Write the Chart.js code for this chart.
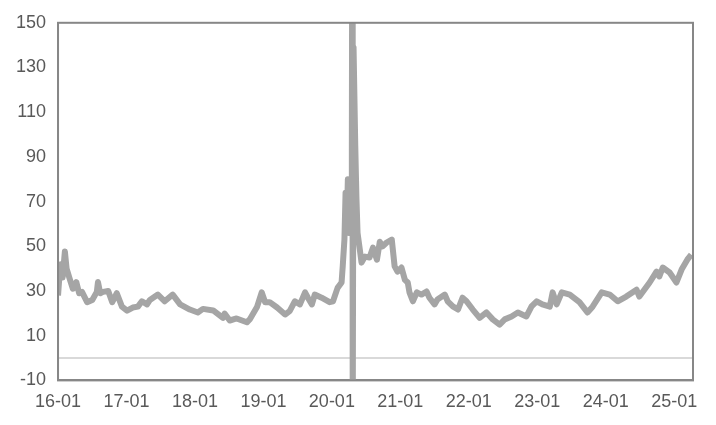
<!DOCTYPE html>
<html>
<head>
<meta charset="utf-8">
<script src="https://cdn.jsdelivr.net/npm/chart.js@4.4.1/dist/chart.umd.min.js"></script>
<style>
  html, body { margin: 0; padding: 0; background: #fff; }
  #wrap { width: 716px; height: 425px; }
</style>
</head>
<body>
<div id="wrap"><canvas id="ratioChart"></canvas></div>
<script>
// months since 2016-01 (x) and the plotted ratio (y)
const months = [
  0.0, 0.2, 0.5, 0.8, 1.2, 1.5, 2.1, 2.6, 3.2, 3.7, 4.2, 5.1, 6.0, 6.8, 7.0, 7.4, 7.9, 8.8,
  9.5, 10.0, 10.3, 11.2, 12.1, 13.1, 14.0, 14.7, 15.6, 16.1, 17.5, 18.7, 20.1, 21.4, 23.1,
  24.5, 25.4, 27.2, 28.9, 29.2, 30.1, 31.3, 33.1, 33.6, 34.9, 35.7, 36.3, 37.1, 38.4, 39.8,
  40.6, 41.5, 42.4, 43.3, 43.8, 44.5, 45.0, 46.2, 47.6, 48.2, 49.0, 49.7, 49.9, 50.2, 50.4,
  50.6, 50.8, 51.0, 51.2, 51.4, 51.5, 51.6, 51.65, 51.8, 52.1, 52.3, 52.5, 52.9, 53.2, 53.8,
  54.6, 55.2, 55.9, 56.4, 56.9, 57.6, 58.5, 59.0, 59.5, 60.2, 60.8, 61.3, 61.6, 62.2, 62.9,
  63.7, 64.6, 65.1, 66.0, 66.5, 67.8, 68.3, 69.2, 70.1, 70.9, 71.6, 72.7, 73.9, 75.1, 76.2,
  77.4, 78.3, 79.5, 80.6, 82.1, 83.0, 83.9, 84.9, 86.2, 86.7, 87.4, 88.3, 89.7, 91.4, 92.8,
  93.7, 95.3, 96.7, 98.1, 99.6, 101.4, 101.9, 103.7, 104.9, 105.4, 106.0, 107.2, 108.4,
  109.3, 110.3, 111.0
];
const ratio = [
  28, 35, 42, 36, 47.7, 40, 35, 31, 34, 29, 29.6, 25, 26, 29.6, 34, 29, 29.6, 30,
  25, 27.5, 29, 23, 21.2, 22.6, 23, 25.4, 24, 26, 28.4, 25.4, 28.4, 24, 21.7,
  20.4, 22, 21.3, 18, 19.9, 16.8, 17.7, 16, 17.3, 23, 29.4, 25, 25, 22.6, 19.5,
  21, 25.4, 24, 29.4, 27, 24, 28.4, 27, 25, 25.4, 31.4, 33.8, 41, 53, 74,
  58, 80, 56, 78, 66, 93, 250, -40, 139, 95, 72, 56, 48.5, 42.7, 45.4,
  45, 49.4, 44, 52, 50, 51.7, 53, 41, 38.7, 40.5, 35, 33.8, 29.4, 25.4, 29.4,
  28.4, 29.8, 27, 24, 26.2, 28.4, 25.4, 23.1, 21.7, 27, 25.4, 21.7, 18, 20.4, 17.3,
  15, 17.3, 18.6, 20.4, 18.6, 23.1, 25.4, 24, 23, 29.4, 24, 29.4, 28.4, 25, 20.4,
  23, 29.4, 28.4, 25.4, 27.5, 30.6, 27.5, 33.8, 38.7, 36.5, 40.5, 38.3, 33.8,
  39.6, 44, 46.3
];
const yearTicks = [0, 12, 24, 36, 48, 60, 72, 84, 96, 108];
const yearLabels = ['16-01', '17-01', '18-01', '19-01', '20-01', '21-01', '22-01', '23-01', '24-01', '25-01'];
const xMax = 111.3;

const LINE = '#a5a5a5';
const FRAME = '#878787';
const TEXT = '#595959';

Chart.defaults.font.family = "'Liberation Sans', Arial, sans-serif";
Chart.defaults.font.size = 18;
Chart.defaults.color = TEXT;

// box round the plot area, as in the source
const frame = {
  id: 'frame',
  afterDraw(chart) {
    const { ctx, chartArea: a } = chart;
    ctx.save();
    ctx.strokeStyle = FRAME;
    ctx.lineWidth = 2;
    ctx.strokeRect(a.left, a.top, a.right - a.left, a.bottom - a.top);
    ctx.restore();
  }
};

new Chart(document.getElementById('ratioChart'), {
  type: 'line',
  data: {
    datasets: [
      {
        data: months.map((m, i) => ({ x: m, y: ratio[i] })),
        borderColor: LINE,
        borderWidth: 6,
        borderJoinStyle: 'round',
        pointRadius: 0,
        tension: 0,
        clip: 0,
        order: 1,
      },
      {
        data: [{ x: 0, y: 0 }, { x: xMax, y: 0 }],
        borderColor: '#d9d9d9',
        borderWidth: 2,
        pointRadius: 0,
        clip: 0,
        order: 2,
      },
    ],
  },
  options: {
    responsive: true,
    maintainAspectRatio: false,
    animation: false,
    layout: { padding: { top: 16, right: 23, bottom: 1, left: 4 } },
    plugins: { legend: { display: false }, tooltip: { enabled: false } },
    scales: {
      x: {
        type: 'linear',
        min: 0,
        max: xMax,
        grid: { display: false, drawTicks: false },
        border: { color: FRAME, width: 2 },
        afterBuildTicks: s => { s.ticks = yearTicks.map(v => ({ value: v })); },
        ticks: {
          padding: 11,
          maxRotation: 0,
          autoSkip: false,
          callback: v => yearLabels[yearTicks.indexOf(v)] ?? '',
        },
      },
      y: {
        min: -10,
        max: 150,
        grid: { display: false, drawTicks: false },
        border: { color: FRAME, width: 2 },
        ticks: { stepSize: 20, padding: 12 },
      },
    },
  },
  plugins: [frame],
});
</script>
</body>
</html>
